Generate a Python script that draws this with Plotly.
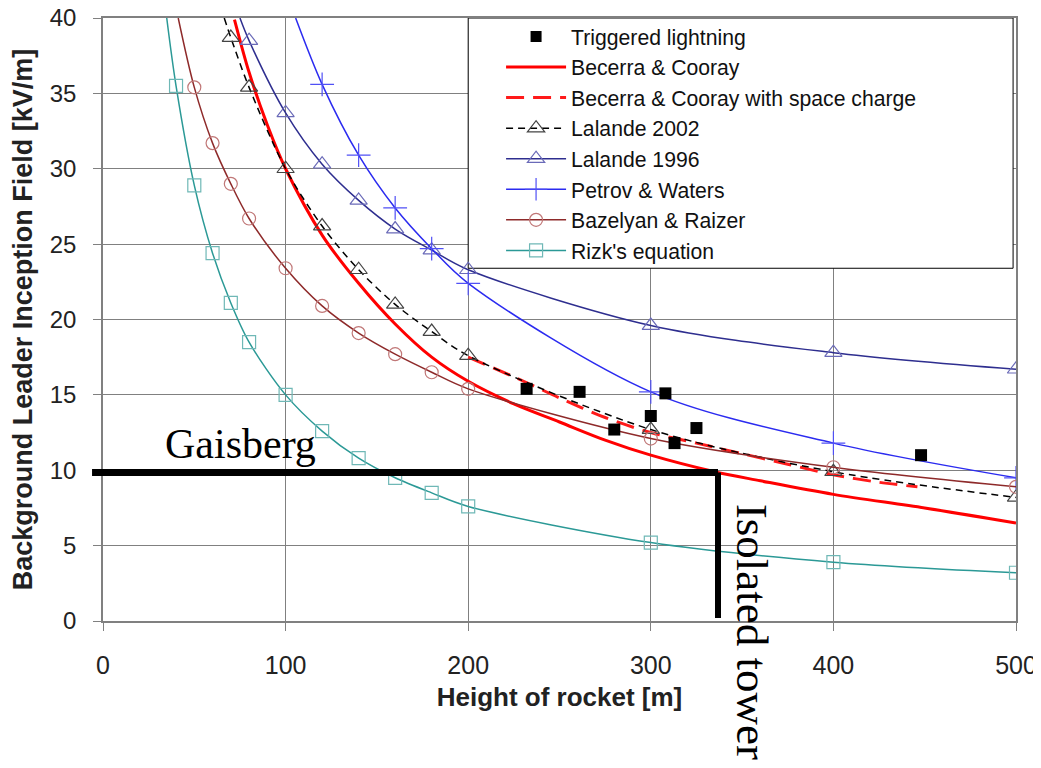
import plotly.graph_objects as go

# ---------------- data ----------------
trig_x = [232, 261, 308, 300, 280, 313, 325, 448]
trig_y = [15.4, 15.2, 15.1, 13.6, 12.7, 11.8, 12.8, 11.0]

bc_x = [72, 80, 90, 100, 120, 140, 160, 180, 200, 225, 250, 275, 300, 335, 360, 400, 450, 500]
bc_y = [39.9, 36.4, 32.9, 30.0, 25.6, 22.4, 19.7, 17.5, 15.9, 14.4, 13.2, 12.0, 11.0, 9.9, 9.3, 8.4, 7.5, 6.5]

bcs_x = [200, 225, 250, 275, 300, 325, 350, 375, 400, 425, 446]
bcs_y = [17.5, 16.2, 14.8, 13.5, 12.5, 11.8, 11.1, 10.4, 9.7, 9.2, 8.9]

l02_x = [70, 80, 100, 120, 140, 160, 180, 200, 300, 400, 500]
l02_y = [38.7, 35.4, 30.0, 26.2, 23.3, 21.0, 19.2, 17.6, 12.7, 9.9, 8.2]
l02_top = (66.4, 40.0)

l96_x = [80, 100, 120, 140, 160, 180, 200, 300, 400, 500]
l96_y = [38.5, 33.7, 30.3, 27.9, 26.0, 24.6, 23.3, 19.6, 17.8, 16.7]
l96_top = (75.0, 40.0)

pw_x = [120, 140, 160, 180, 200, 300, 400, 500]
pw_y = [35.6, 30.9, 27.4, 24.7, 22.4, 15.2, 11.8, 9.5]
pw_top = (105.5, 40.0)

br_x = [50, 60, 70, 80, 100, 120, 140, 160, 180, 200, 300, 400, 500]
br_y = [35.4, 31.7, 29.0, 26.7, 23.4, 20.9, 19.1, 17.7, 16.5, 15.4, 12.1, 10.2, 8.9]
br_top = (41.2, 40.0)

rz_x = [40, 50, 60, 70, 80, 100, 120, 140, 160, 180, 200, 300, 400, 500]
rz_y = [35.5, 28.9, 24.4, 21.1, 18.5, 15.0, 12.6, 10.8, 9.5, 8.5, 7.6, 5.2, 3.9, 3.2]
rz_top = (34.9, 40.0)

gaisberg_field = 9.85     # kV/m
tower_height = 336.8      # m

x_ticks = [0, 100, 200, 300, 400, 500]
y_ticks = [0, 5, 10, 15, 20, 25, 30, 35, 40]

# ---------------- figure ----------------
fig = go.Figure()

SANS = "Arial, Liberation Sans, sans-serif"
SERIF = "Times New Roman, Liberation Serif, serif"
SMOOTH = 0.9


def curve(name, xs, ys, top, color, mcolor, symbol, width=1.5, dash="solid", msize=13):
    lx = ([top[0]] if top else []) + xs
    ly = ([top[1]] if top else []) + ys
    fig.add_trace(go.Scatter(x=lx, y=ly, mode="lines", showlegend=False,
                             line=dict(color=color, width=width, dash=dash, shape="spline", smoothing=SMOOTH),
                             hoverinfo="skip"))
    fig.add_trace(go.Scatter(x=xs, y=ys, mode="markers", showlegend=False,
                             marker=dict(symbol=symbol, size=msize, color=mcolor,
                                         line=dict(color=mcolor, width=1.2))))
    fig.add_trace(go.Scatter(x=[None], y=[None], mode="lines+markers", name=name,
                             line=dict(color=color, width=width, dash=dash),
                             marker=dict(symbol=symbol, size=msize, color=mcolor,
                                         line=dict(color=mcolor, width=1.2))))


fig.add_trace(go.Scatter(x=[None], y=[None], mode="markers", name="Triggered lightning",
                         marker=dict(symbol="square", size=11, color="black")))
fig.add_trace(go.Scatter(x=bc_x, y=bc_y, mode="lines", name="Becerra & Cooray",
                         line=dict(color="#ff0000", width=3, shape="spline", smoothing=SMOOTH)))
fig.add_trace(go.Scatter(x=bcs_x, y=bcs_y, mode="lines", name="Becerra & Cooray with space charge",
                         line=dict(color="#ff1a1a", width=3, dash="18px,9px", shape="spline", smoothing=SMOOTH)))
curve("Lalande 2002", l02_x, l02_y, l02_top, "#000000", "#444444", "triangle-up-open",
      width=1.5, dash="7px,5px", msize=15)
curve("Lalande 1996", l96_x, l96_y, l96_top, "#2e2e8f", "#6a6ab8", "triangle-up-open", msize=15)
curve("Petrov & Waters", pw_x, pw_y, pw_top, "#2b2bf0", "#5050f5", "cross-thin-open", msize=17)
curve("Bazelyan & Raizer", br_x, br_y, br_top, "#8e2a2a", "#c07777", "circle-open")
curve("Rizk's equation", rz_x, rz_y, rz_top, "#2b9996", "#6fb8b6", "square-open")

fig.add_trace(go.Scatter(x=trig_x, y=trig_y, mode="markers", showlegend=False,
                         marker=dict(symbol="square", size=12, color="black")))

# legend box (white, covering gridlines)
fig.add_shape(type="rect", xref="x", yref="y", x0=200, x1=498.4, y0=23.4, y1=40,
              fillcolor="white", line=dict(color="black", width=1), layer="between")

# Gaisberg / isolated tower lines
fig.add_shape(type="line", xref="paper", yref="y", x0=-0.012, x1=tower_height / 500,
              y0=gaisberg_field, y1=gaisberg_field, line=dict(color="black", width=7), layer="above")
fig.add_shape(type="line", xref="x", yref="y", x0=tower_height, x1=tower_height,
              y0=gaisberg_field, y1=0.2, line=dict(color="black", width=6), layer="above")

fig.add_annotation(text="Gaisberg", x=33, y=11.75, xref="x", yref="y", xanchor="left",
                   yanchor="middle", showarrow=False, font=dict(family=SERIF, size=42, color="black"))
fig.add_annotation(text="Isolated tower", x=355.5, y=7.9, xref="x", yref="y", xanchor="center",
                   yanchor="top", textangle=90, showarrow=False,
                   font=dict(family=SERIF, size=45, color="black"))

fig.update_layout(
    width=1041, height=768,
    margin=dict(l=95, r=33, t=10, b=155, autoexpand=False),
    paper_bgcolor="white", plot_bgcolor="white",
    font=dict(family=SANS, color="#222222"),
    showlegend=True,
    legend=dict(x=0.436, y=1.003, xanchor="left", yanchor="top", bgcolor="rgba(0,0,0,0)",
                borderwidth=0, font=dict(family=SANS, size=21.2, color="#111111"),
                itemwidth=60, tracegroupgap=0),
    xaxis=dict(range=[0, 500], tickvals=x_ticks, showgrid=True, gridcolor="#808080", gridwidth=1,
               showline=True, mirror=True, linecolor="#808080", linewidth=1.5, zeroline=False,
               ticks="outside", ticklen=8, tickcolor="#808080", ticklabeloverflow="allow",
               ticklabelstandoff=13, tickfont=dict(size=25, color="#222222"),
               title=dict(text="<b>Height of rocket [m]</b>", font=dict(size=26, color="#222222"), standoff=10)),
    yaxis=dict(range=[0, 40], tickvals=y_ticks, showgrid=True, gridcolor="#808080", gridwidth=1,
               showline=True, mirror=True, linecolor="#808080", linewidth=1.5, zeroline=False,
               ticks="outside", ticklen=8, tickcolor="#808080", ticklabeloverflow="allow",
               ticklabelstandoff=12, tickfont=dict(size=24, color="#222222"),
               title=dict(text="<b>Background Leader Inception Field [kV/m]</b>",
                          font=dict(size=27, color="#222222"), standoff=14)),
)

fig.write_html("out.html")
